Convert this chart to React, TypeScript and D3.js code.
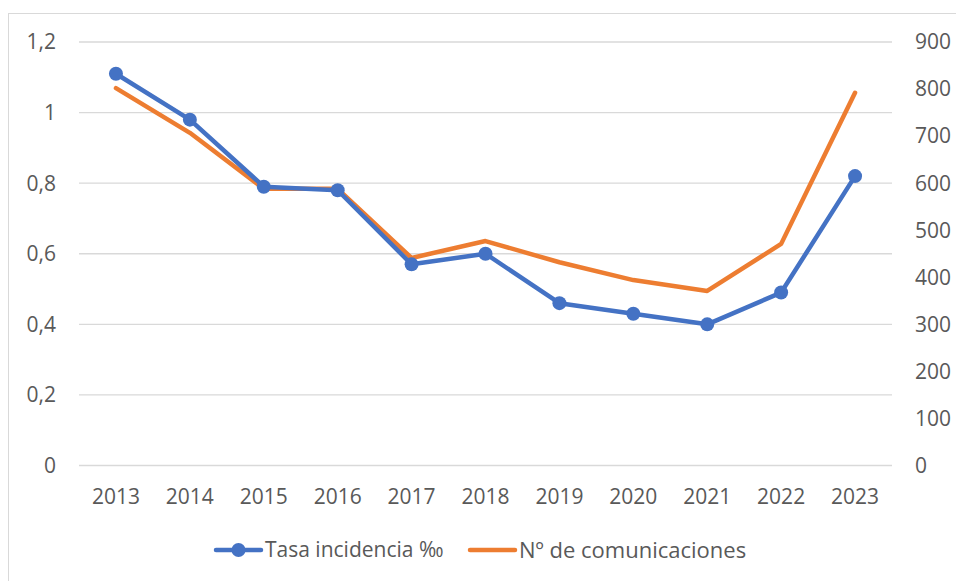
import React from 'react';
import * as d3 from 'd3';

const years = ['2013', '2014', '2015', '2016', '2017', '2018', '2019', '2020', '2021', '2022', '2023'];
const tasa = [1.11, 0.98, 0.79, 0.78, 0.57, 0.6, 0.46, 0.43, 0.4, 0.49, 0.82];
const comunicaciones = [802, 707, 588, 588, 441, 477, 432, 394, 371, 471, 792];
const leftTicks = [0, 0.2, 0.4, 0.6, 0.8, 1, 1.2];
const rightTicks = [0, 100, 200, 300, 400, 500, 600, 700, 800, 900];

const W = 956;
const H = 581;
const plot = { left: 79, right: 892, top: 42, bottom: 465.5 };
const BLUE = '#4472C4';
const ORANGE = '#ED7D31';
const FONT = "'Open Sans', sans-serif";

export default function App() {
  const x = d3.scaleBand().domain(years).range([plot.left, plot.right]);
  const yL = d3.scaleLinear().domain([0, 1.2]).range([plot.bottom, plot.top]);
  const yR = d3.scaleLinear().domain([0, 900]).range([plot.bottom, plot.top]);
  const cx = (y: string) => (x(y) || 0) + x.bandwidth() / 2;

  const blueLine = d3.line<number>().x((_, i) => cx(years[i])).y((d) => yL(d));
  const orangeLine = d3.line<number>().x((_, i) => cx(years[i])).y((d) => yR(d));

  const fmt = (v: number) => String(v).replace('.', ',');

  return (
    <svg width={W} height={H} style={{ position: 'absolute', left: 0, top: 0, background: '#fff' }} fontFamily={FONT}>
      <rect x={8.5} y={13.5} width={W} height={H} fill="#fff" stroke="#d9d9d9" />
      {leftTicks.map((t) => (
        <line key={t} x1={plot.left} x2={plot.right} y1={yL(t)} y2={yL(t)} stroke="#d9d9d9" strokeWidth={1.3} />
      ))}
      {leftTicks.map((t) => (
        <text key={t} x={56} y={yL(t)} dy="0.35em" textAnchor="end" fontSize={21} fill="#595959">{fmt(t)}</text>
      ))}
      {rightTicks.map((t) => (
        <text key={t} x={915} y={yR(t)} dy="0.35em" textAnchor="start" fontSize={21} fill="#595959">{t}</text>
      ))}
      {years.map((y) => (
        <text key={y} x={cx(y)} y={497} dy="0.35em" textAnchor="middle" fontSize={21} fill="#595959">{y}</text>
      ))}
      <path d={orangeLine(comunicaciones) || ''} fill="none" stroke={ORANGE} strokeWidth={4.5} strokeLinecap="round" strokeLinejoin="round" />
      <path d={blueLine(tasa) || ''} fill="none" stroke={BLUE} strokeWidth={4.5} strokeLinecap="round" strokeLinejoin="round" />
      {tasa.map((v, i) => (
        <circle key={i} cx={cx(years[i])} cy={yL(v)} r={7} fill={BLUE} />
      ))}
      <g>
        <line x1={216} x2={261} y1={550} y2={550} stroke={BLUE} strokeWidth={4.5} strokeLinecap="round" />
        <circle cx={238.5} cy={550} r={7} fill={BLUE} />
        <text x={265} y={550} dy="0.35em" fontSize={21} fill="#595959">Tasa incidencia ‰</text>
        <line x1={470} x2={515} y1={550} y2={550} stroke={ORANGE} strokeWidth={4.5} strokeLinecap="round" />
        <text x={519} y={550} dy="0.35em" fontSize={22} fill="#595959">Nº de comunicaciones</text>
      </g>
    </svg>
  );
}
